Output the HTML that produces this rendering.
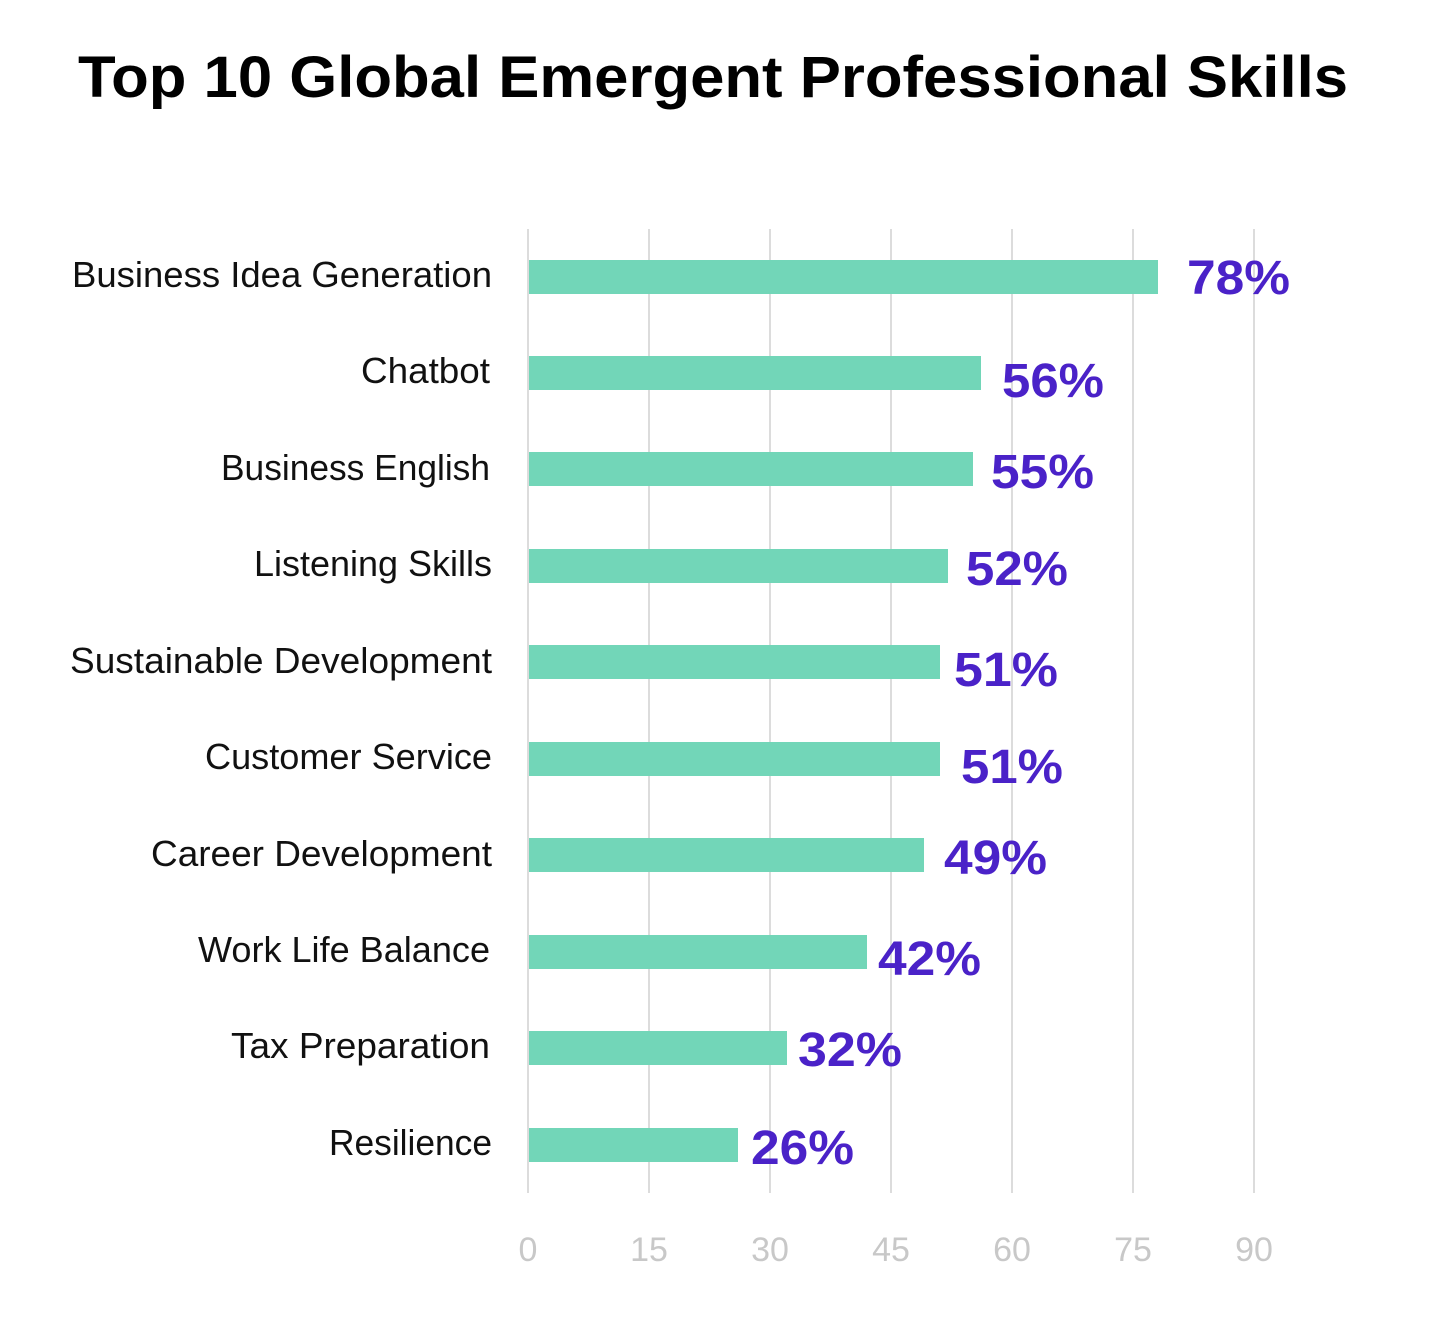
<!DOCTYPE html>
<html><head><meta charset="utf-8"><style>
html,body{margin:0;padding:0;background:#fff;}
svg{display:block;}
</style></head><body>
<svg width="1439" height="1342" xmlns="http://www.w3.org/2000/svg" font-family="'Liberation Sans', sans-serif">
<rect width="1439" height="1342" fill="#fff"/>
<text x="78" y="97" font-size="58" font-weight="bold" fill="#000" textLength="1270" lengthAdjust="spacingAndGlyphs">Top 10 Global Emergent Professional Skills</text>
<g stroke="#dcdcdc" stroke-width="2">
<line x1="528" y1="229" x2="528" y2="1193"/>
<line x1="649" y1="229" x2="649" y2="1193"/>
<line x1="770" y1="229" x2="770" y2="1193"/>
<line x1="891" y1="229" x2="891" y2="1193"/>
<line x1="1012" y1="229" x2="1012" y2="1193"/>
<line x1="1133" y1="229" x2="1133" y2="1193"/>
<line x1="1254" y1="229" x2="1254" y2="1193"/>
</g>
<g fill="#c8c8c8" font-size="34" text-anchor="middle">
<text x="528" y="1261">0</text><text x="649" y="1261">15</text><text x="770" y="1261">30</text><text x="891" y="1261">45</text><text x="1012" y="1261">60</text><text x="1133" y="1261">75</text><text x="1254" y="1261">90</text>
</g>
<g fill="#72d6b8">
<rect x="529" y="260" width="629" height="34"/>
<rect x="529" y="356" width="452" height="34"/>
<rect x="529" y="452" width="444" height="34"/>
<rect x="529" y="549" width="419" height="34"/>
<rect x="529" y="645" width="411" height="34"/>
<rect x="529" y="742" width="411" height="34"/>
<rect x="529" y="838" width="395" height="34"/>
<rect x="529" y="935" width="338" height="34"/>
<rect x="529" y="1031" width="258" height="34"/>
<rect x="529" y="1128" width="209" height="34"/>
</g>
<g fill="#111" font-size="36" lengthAdjust="spacingAndGlyphs">
<text x="72" y="287" textLength="420" lengthAdjust="spacingAndGlyphs">Business Idea Generation</text>
<text x="361" y="383" textLength="129" lengthAdjust="spacingAndGlyphs">Chatbot</text>
<text x="221" y="480" textLength="269" lengthAdjust="spacingAndGlyphs">Business English</text>
<text x="254" y="576" textLength="238" lengthAdjust="spacingAndGlyphs">Listening Skills</text>
<text x="70" y="673" textLength="422" lengthAdjust="spacingAndGlyphs">Sustainable Development</text>
<text x="205" y="769" textLength="287" lengthAdjust="spacingAndGlyphs">Customer Service</text>
<text x="151" y="866" textLength="341" lengthAdjust="spacingAndGlyphs">Career Development</text>
<text x="198" y="962" textLength="292" lengthAdjust="spacingAndGlyphs">Work Life Balance</text>
<text x="231" y="1058" textLength="259" lengthAdjust="spacingAndGlyphs">Tax Preparation</text>
<text x="329" y="1155" textLength="163" lengthAdjust="spacingAndGlyphs">Resilience</text>
</g>
<g fill="#4a22c8" font-size="48" font-weight="bold">
<text x="1187" y="294" textLength="103" lengthAdjust="spacingAndGlyphs">78%</text>
<text x="1002" y="397" textLength="102" lengthAdjust="spacingAndGlyphs">56%</text>
<text x="991" y="488" textLength="103" lengthAdjust="spacingAndGlyphs">55%</text>
<text x="966" y="585" textLength="102" lengthAdjust="spacingAndGlyphs">52%</text>
<text x="954" y="686" textLength="104" lengthAdjust="spacingAndGlyphs">51%</text>
<text x="961" y="783" textLength="102" lengthAdjust="spacingAndGlyphs">51%</text>
<text x="944" y="874" textLength="103" lengthAdjust="spacingAndGlyphs">49%</text>
<text x="878" y="975" textLength="103" lengthAdjust="spacingAndGlyphs">42%</text>
<text x="798" y="1066" textLength="104" lengthAdjust="spacingAndGlyphs">32%</text>
<text x="751" y="1164" textLength="103" lengthAdjust="spacingAndGlyphs">26%</text>
</g>
</svg>
</body></html>
